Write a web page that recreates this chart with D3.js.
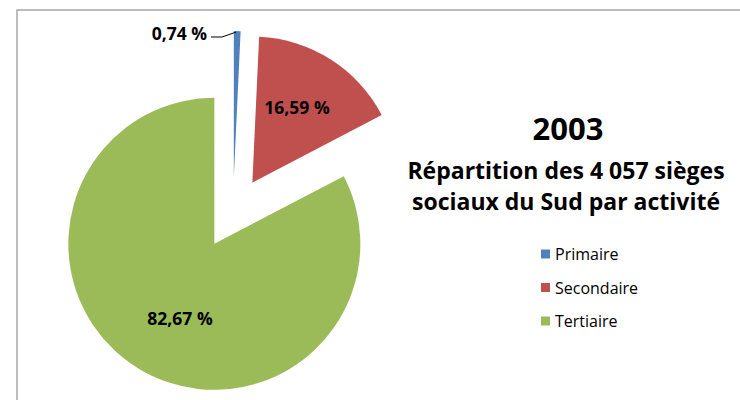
<!DOCTYPE html>
<html>
<head>
<meta charset="utf-8">
<script src="https://cdn.jsdelivr.net/npm/d3@7"></script>
<style>
  body { margin: 0; background: #fff; }
  text { font-family: "Open Sans", "Liberation Sans", sans-serif; }
</style>
</head>
<body>
<div id="viz"></div>
<script>
const width = 740;
const height = 400;

// Data
const categories = ["Primaire", "Secondaire", "Tertiaire"];
const shares = [0.74, 16.59, 82.67];
const labels = ["0,74 %", "16,59 %", "82,67 %"];
const colors = ["#4F81BD", "#C0504D", "#9BBB59"];

const svg = d3.select("#viz")
  .append("svg")
  .attr("width", width)
  .attr("height", height);

// chart frame (runs off the right and bottom edges)
svg.append("rect")
  .attr("x", 17)
  .attr("y", 10)
  .attr("width", 760)
  .attr("height", 420)
  .attr("fill", "none")
  .attr("stroke", "#a6a6a6")
  .attr("stroke-width", 1.5);

const cx = 233, cy = 213;
const radius = 146;
const explode = 36;

const pie = d3.pie().sort(null).value(d => d);
const arc = d3.arc().innerRadius(0).outerRadius(radius);
const arcs = pie(shares);

const slices = svg.append("g")
  .attr("transform", `translate(${cx},${cy})`);

const sliceG = slices.selectAll("g.slice")
  .data(arcs)
  .join("g")
  .attr("class", "slice")
  .attr("transform", d => {
    const a = (d.startAngle + d.endAngle) / 2;
    return `translate(${explode * Math.sin(a)},${-explode * Math.cos(a)})`;
  });

sliceG.append("path")
  .attr("d", arc)
  .attr("fill", (d, i) => colors[i]);

// data labels
const labelPos = [null, [297, 107], [180, 318]];
arcs.forEach((d, i) => {
  if (i === 0) return;
  svg.append("text")
    .attr("x", labelPos[i][0])
    .attr("y", labelPos[i][1])
    .attr("text-anchor", "middle")
    .attr("dominant-baseline", "central")
    .attr("font-size", "17.5px")
    .attr("font-weight", "bold")
    .attr("fill", "#000")
    .text(labels[i]);
});

// small slice label with leader line
svg.append("text")
  .attr("x", 207)
  .attr("y", 33)
  .attr("text-anchor", "end")
  .attr("dominant-baseline", "central")
  .attr("font-size", "17.5px")
  .attr("font-weight", "bold")
  .attr("fill", "#000")
  .text(labels[0]);

const a0 = (arcs[0].startAngle + arcs[0].endAngle) / 2;
const tip = [cx + (explode + radius) * Math.sin(a0), cy - (explode + radius) * Math.cos(a0)];
svg.append("path")
  .attr("d", d3.line()([[211, 37], [222, 37], [tip[0] - 1, tip[1] + 1]]))
  .attr("fill", "none")
  .attr("stroke", "#000")
  .attr("stroke-width", 1);

// title
svg.append("text")
  .attr("x", 568)
  .attr("y", 128)
  .attr("text-anchor", "middle")
  .attr("dominant-baseline", "central")
  .attr("font-size", "31px")
  .attr("font-weight", "bold")
  .text("2003");

const subtitle = ["Répartition des 4 057 sièges", "sociaux du Sud par activité"];
svg.selectAll("text.sub")
  .data(subtitle)
  .join("text")
  .attr("class", "sub")
  .attr("x", 566)
  .attr("y", (d, i) => 170 + i * 31)
  .attr("text-anchor", "middle")
  .attr("dominant-baseline", "central")
  .attr("font-size", "23px")
  .attr("font-weight", "bold")
  .text(d => d);

// legend
const legend = svg.selectAll("g.legend")
  .data(categories)
  .join("g")
  .attr("class", "legend")
  .attr("transform", (d, i) => `translate(541,${254 + i * 33.5})`);

legend.append("rect")
  .attr("x", 0)
  .attr("y", -4.5)
  .attr("width", 9)
  .attr("height", 9)
  .attr("fill", (d, i) => colors[i]);

legend.append("text")
  .attr("x", 14)
  .attr("y", 0)
  .attr("dominant-baseline", "central")
  .attr("font-size", "16px")
  .attr("fill", "#000")
  .text(d => d);
</script>
</body>
</html>
